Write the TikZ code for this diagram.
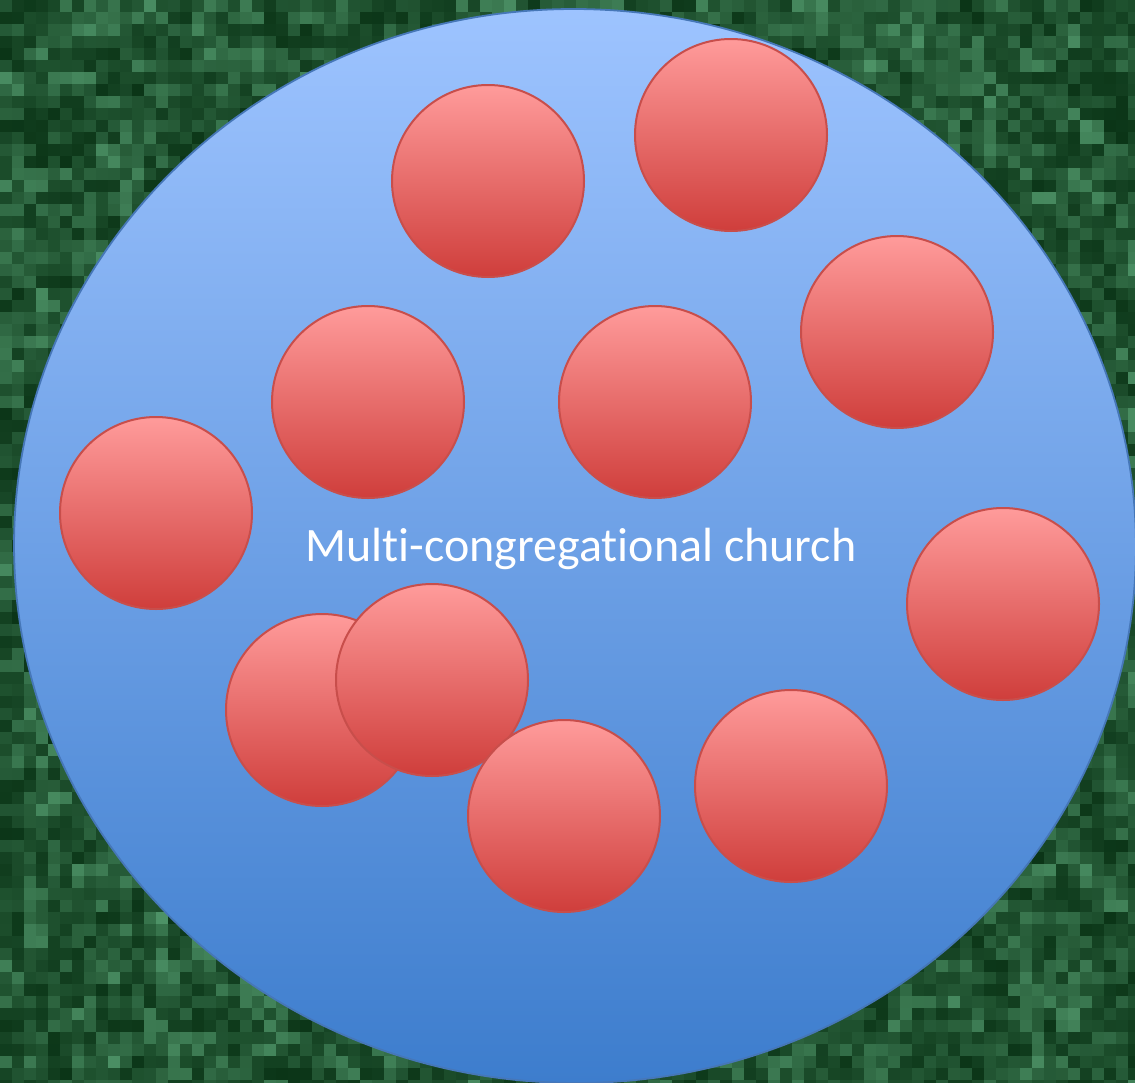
\documentclass[tikz,border=0pt]{standalone}
\usepackage{fontspec}
\setmainfont{Carlito}[Ligatures=NoCommon]
\usetikzlibrary{shapes.geometric}
\definecolor{grassdp}{HTML}{0B3517}
\definecolor{grasshi}{HTML}{4E9468}
\definecolor{skytop}{HTML}{9EC4FF}
\definecolor{skybot}{HTML}{3D7DCD}
\definecolor{skyline}{HTML}{4677B8}
\definecolor{rosetop}{HTML}{FF9B9B}
\definecolor{rosebot}{HTML}{CF3E3B}
\definecolor{roseline}{HTML}{C84E4B}

\begin{document}
\begin{tikzpicture}[x=1pt, y=-1pt,
  church/.style={ellipse, draw=skyline, line width=1.8pt,
                 top color=skytop, bottom color=skybot, inner sep=0pt,
                 minimum width=1122, minimum height=1074},
  congr/.style={circle, draw=roseline, line width=2pt,
                top color=rosetop, bottom color=rosebot, inner sep=0pt,
                minimum size=192},
  lbl/.style={font=\fontsize{48}{56}\selectfont, text=white},
]
  \useasboundingbox (0,0) rectangle (1135,1082);
  % grass background: coarse tones stored, fine pixels only outside the church
  \pgfmathsetseed{42}
  \fill[grasshi!35!grassdp] (0,0) rectangle (1135,1082);
  \foreach \i in {0,...,47} \foreach \j in {0,...,45} {
    \pgfmathsetmacro\tone{100*rnd}
    \expandafter\xdef\csname grass\i-\j\endcsname{\tone}
  }
  \foreach \i in {0,...,94} \foreach \j in {0,...,90} {
    \pgfmathsetmacro\dst{((12*\i+6-575)/561)^2+((12*\j+6-546)/537)^2}
    \ifdim\dst pt>0.94pt
      \pgfmathtruncatemacro\ci{\i/2}
      \pgfmathtruncatemacro\cj{\j/2}
      \pgfmathsetmacro\tone{(0.45*\csname grass\ci-\cj\endcsname+55*rnd)/100}
      \pgfmathtruncatemacro\tone{100*\tone^1.6}
      \fill[grasshi!\tone!grassdp] (12*\i,12*\j) rectangle +(12,12);
    \fi
  }
  % the church and its congregations
  \node[church, rotate=-1.3] (church) at (575,546) {};
  \node[lbl] (name) at (581,549) {Multi-congregational church};
  \foreach \n/\x/\y in {c1/488/181, c2/731/135, c3/897/332, c4/368/402,
      c5/655/402, c6/156/513, c7/1003/604, c8/322/710, c9/432/680,
      c10/564/816, c11/791/786}
    \node[congr] (\n) at (\x,\y) {};
\end{tikzpicture}
\end{document}
